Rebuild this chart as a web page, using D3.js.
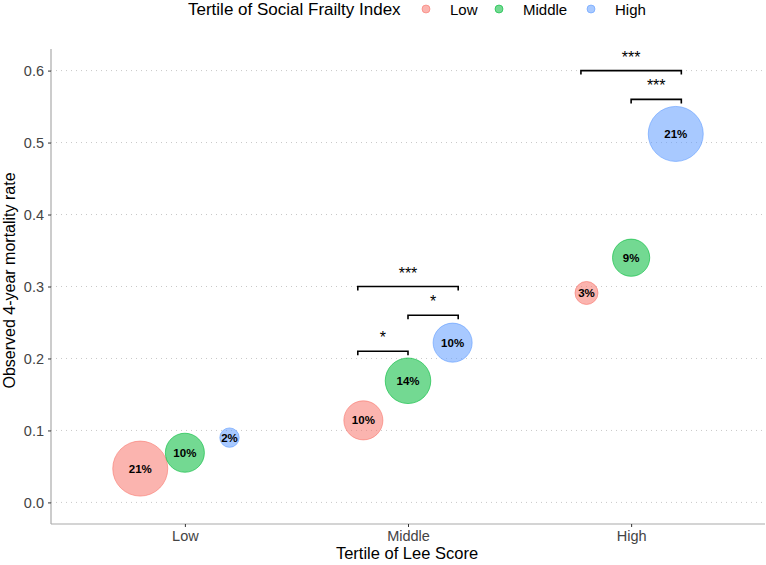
<!DOCTYPE html>
<html><head><meta charset="utf-8">
<script src="https://cdn.jsdelivr.net/npm/d3@7"></script>
<style>body{margin:0;background:#fff}svg{display:block}text{font-family:"Liberation Sans",Arial,sans-serif}</style>
</head><body>
<svg id="c" width="766" height="565"></svg>
<script>
const leeTertiles = ["Low", "Middle", "High"];
const sfiTertiles = ["Low", "Middle", "High"];
const colors = ["#F8766D", "#00BA38", "#619CFF"];
// mortality rate by [lee][sfi]
const mortality = [
  [0.047, 0.069, 0.090],
  [0.114, 0.169, 0.222],
  [0.291, 0.340, 0.512]
];
// percent of sample by [lee][sfi]
const percent = [
  [21, 10, 2],
  [10, 14, 10],
  [3, 9, 21]
];
// significance brackets: lee group, sfi from, sfi to, y, label
const bracketLee = ["Middle", "Middle", "Middle", "High", "High"];
const bracketFrom = ["Low", "Middle", "Low", "Middle", "Low"];
const bracketTo = ["Middle", "High", "High", "High", "High"];
const bracketY = [0.21, 0.26, 0.30, 0.56, 0.60];
const bracketLabel = ["*", "*", "***", "***", "***"];
const yTicks = [0, 0.1, 0.2, 0.3, 0.4, 0.5, 0.6];

const svg = d3.select("#c");
const L = 51, R = 765, T = 49, B = 524;
const x = d3.scaleLinear().domain([0.4, 3.6]).range([L, R]);
const y = d3.scaleLinear().domain([-0.03, 0.63]).range([B, T]);
const r = d3.scaleSqrt().domain([2, 21]).range([9.7, 27.5]);
const dodge = [-0.2, 0, 0.2];
const bDodge = [-0.225, 0, 0.225];

// grid
svg.append("g").selectAll("line").data(yTicks).join("line")
  .attr("x1", L).attr("x2", R).attr("y1", d => y(d)).attr("y2", d => y(d))
  .attr("stroke", "#c8c8c8").attr("stroke-width", 1).attr("stroke-dasharray", "1,4");

// axes
const ya = svg.append("g").attr("transform", `translate(${L},0)`)
  .call(d3.axisLeft(y).tickValues(yTicks).tickFormat(d3.format(".1f")).tickSize(3).tickPadding(4));
const xa = svg.append("g").attr("transform", `translate(0,${B})`)
  .call(d3.axisBottom(x).tickValues([1, 2, 3]).tickFormat(d => leeTertiles[d - 1]).tickSize(3).tickPadding(4));
[ya, xa].forEach(a => {
  a.select(".domain").attr("stroke", "#aaaaaa").attr("stroke-width", 1.2);
  a.selectAll(".tick line").attr("stroke", "#333");
  a.selectAll(".tick text").attr("fill", "#444").style("font-size", "14.5px");
});
xa.select(".domain").attr("d", `M${L},0H${R}`);
ya.select(".domain").attr("d", `M0,${B}V${T}`);

// points
const pts = [];
leeTertiles.forEach((lee, i) => sfiTertiles.forEach((s, j) => pts.push({i, j, m: mortality[i][j], p: percent[i][j]})));
const gp = svg.append("g");
gp.selectAll("circle").data(pts).join("circle")
  .attr("cx", d => x(d.i + 1 + dodge[d.j])).attr("cy", d => y(d.m)).attr("r", d => r(d.p))
  .attr("fill", d => colors[d.j]).attr("fill-opacity", 0.55)
  .attr("stroke", d => colors[d.j]).attr("stroke-opacity", 0.6).attr("stroke-width", 1);
gp.selectAll("text").data(pts).join("text")
  .attr("x", d => x(d.i + 1 + dodge[d.j])).attr("y", d => y(d.m)).attr("dy", "0.35em")
  .attr("text-anchor", "middle").style("font-size", "11.5px").style("font-weight", "bold").attr("fill", "#000")
  .text(d => d.p + "%");

// brackets
const gb = svg.append("g");
bracketY.forEach((by, k) => {
  const li = leeTertiles.indexOf(bracketLee[k]) + 1;
  const x1 = x(li + bDodge[sfiTertiles.indexOf(bracketFrom[k])]);
  const x2 = x(li + bDodge[sfiTertiles.indexOf(bracketTo[k])]);
  const yy = y(by);
  gb.append("path").attr("d", `M${x1},${yy + 4}V${yy}H${x2}V${yy + 4}`)
    .attr("fill", "none").attr("stroke", "#000").attr("stroke-width", 1.6);
  gb.append("text").attr("x", (x1 + x2) / 2).attr("y", yy - 8)
    .attr("text-anchor", "middle").style("font-size", "16px").attr("fill", "#000").text(bracketLabel[k]);
});

// axis titles
svg.append("text").attr("x", (L + R) / 2 - 1).attr("y", 559).attr("text-anchor", "middle")
  .style("font-size", "16.5px").attr("fill", "#000").text("Tertile of Lee Score");
svg.append("text").attr("transform", `translate(15,${(T + B) / 2 - 6}) rotate(-90)`).attr("text-anchor", "middle")
  .style("font-size", "16px").attr("fill", "#000").text("Observed 4-year mortality rate");

// legend
const lg = svg.append("g");
lg.append("text").attr("x", 188).attr("y", 15).style("font-size", "17px").attr("fill", "#000").text("Tertile of Social Frailty Index");
const lx = [426, 499, 591];
sfiTertiles.forEach((s, j) => {
  lg.append("circle").attr("cx", lx[j]).attr("cy", 9).attr("r", 4).attr("fill", colors[j]).attr("fill-opacity", 0.55)
    .attr("stroke", colors[j]).attr("stroke-opacity", 0.6);
  lg.append("text").attr("x", lx[j] + 24).attr("y", 15).style("font-size", "15px").attr("fill", "#000").text(s);
});
</script>
</body></html>
